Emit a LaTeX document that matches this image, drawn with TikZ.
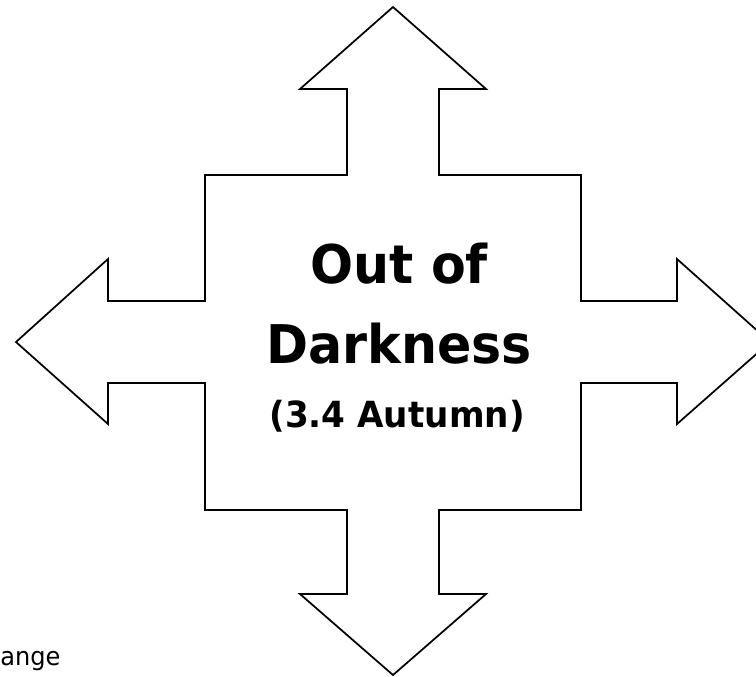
\documentclass[tikz,border=0pt]{standalone}
\usepackage{fontspec}
\newfontfamily\signfont{DejaVu Sans}[FakeStretch=0.95]
\usetikzlibrary{positioning}
\definecolor{ink}{HTML}{000000}
\tikzset{
  % --- shape
  outline/.style = {draw=ink, line width=1.3pt, line join=miter, fill=white},
  % --- text
  big/.style     = {font=\signfont\bfseries\fontsize{40}{48}\selectfont, text=ink,
                    inner sep=0pt, anchor=base},
  small/.style   = {font=\signfont\bfseries\fontsize{27}{32}\selectfont, text=ink,
                    inner sep=0pt, anchor=base},
  side/.style    = {font=\signfont\fontsize{19}{23}\selectfont, text=ink,
                    inner sep=0pt, anchor=base west},
}
\begin{document}
\begin{tikzpicture}[x=0.75pt, y=-0.75pt]
  \clip (0,0) rectangle (756,676);
  % four-way arrow
  \draw[outline] (393,7) -- (486,89) -- (439,89) -- (439,175) -- (581,175)
    -- (581,301) -- (677,301) -- (677,259) -- (770,342) -- (677,424) -- (677,383)
    -- (581,383) -- (581,510) -- (439,510) -- (439,594) -- (486,594) -- (393,675)
    -- (300,594) -- (347,594) -- (347,510) -- (205,510) -- (205,383) -- (108,383)
    -- (108,424) -- (16,342) -- (108,259) -- (108,301) -- (205,301) -- (205,175)
    -- (347,175) -- (347,89) -- (300,89) -- cycle;
  % title
  \node[big]   (out)    at (399,283) {Out of};
  \node[big]   (dark)   at (399,363) {Darkness};
  \node[small] (season) at (397,427) {(3.4 Autumn)};
  \node[side]  (change) at (0,665)   {ange};
\end{tikzpicture}
\end{document}
